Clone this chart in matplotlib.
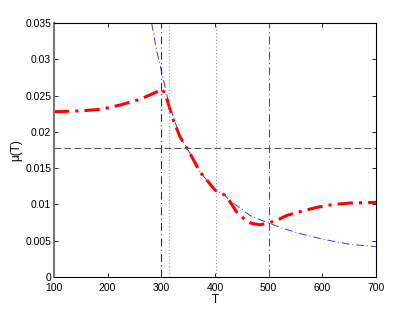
import numpy as np
import matplotlib
matplotlib.use("Agg")
import matplotlib.pyplot as plt

plt.rcParams['font.family'] = ['Liberation Sans', 'DejaVu Sans']

# red curve (thick dash-dot)
T_red = [100, 148, 186, 223, 260, 285, 302, 311, 323, 335, 353, 372, 400, 418,
         428, 440, 456, 468, 484, 496, 515, 534, 558, 589, 620, 652, 700]
mu_red = [0.02278, 0.0229, 0.0231, 0.0237, 0.02449, 0.0253, 0.0259, 0.0244,
          0.0215, 0.0193, 0.0171, 0.0145, 0.0120, 0.0113, 0.0104, 0.0090,
          0.0079, 0.0074, 0.0072, 0.0074, 0.0078, 0.0085, 0.0090, 0.0096,
          0.0100, 0.0102, 0.0103]

# blue curve (thin dash-dot)
T_blue = [282, 291, 299, 307, 315, 335, 353, 372, 400, 418, 428, 447, 465,
          484, 509, 527, 558, 602, 652, 700]
mu_blue = [0.0350, 0.0313, 0.0288, 0.0262, 0.0237, 0.0193, 0.0171, 0.0145,
           0.0120, 0.0113, 0.0105, 0.0095, 0.0085, 0.0079, 0.0072, 0.0067,
           0.0060, 0.0052, 0.0045, 0.0042]

T_dashdot = [300, 500]
T_dotted = [314, 402]
mu_level = 0.01773

fig = plt.figure(figsize=(4.15, 3.12), dpi=100)
ax = fig.add_axes([0.130, 0.112, 0.776, 0.814])

ax.plot(T_blue, mu_blue, color='#3333ff', lw=0.7, dashes=(8, 3, 1, 3))
ax.plot(T_red, mu_red, color='red', lw=2.2, dashes=(5, 2, 1, 2))

ax.axvline(T_dashdot[0], color='#333333', lw=0.8, dashes=(7, 3, 1, 3))
ax.axvline(T_dashdot[1], color='#555555', lw=0.8, dashes=(7, 3, 1, 3))
for t in T_dotted:
    ax.axvline(t, color='#8888ff', lw=0.8, dashes=(1, 2))
ax.axhline(mu_level, color='#555555', lw=0.8, dashes=(6, 3))

ax.set_xlim(100, 700)
ax.set_ylim(0, 0.035)
ax.set_xticks([100, 200, 300, 400, 500, 600, 700])
ax.set_yticks([0, 0.005, 0.01, 0.015, 0.02, 0.025, 0.03, 0.035])
ax.set_yticklabels(['0', '0.005', '0.01', '0.015', '0.02', '0.025', '0.03', '0.035'])
ax.tick_params(direction='in', top=True, right=True, length=3, width=0.6,
               labelsize=7.5, pad=2)
ax.tick_params(axis='x', pad=4)
for s in ax.spines.values():
    s.set_linewidth(0.8)
ax.spines['left'].set_color('#777777')
ax.spines['left'].set_linewidth(1.5)

ax.set_xlabel('T', fontsize=8.5, labelpad=1)
ax.set_ylabel('μ(T)', fontsize=8.5, labelpad=2)

fig.savefig('out.png', dpi=100)
